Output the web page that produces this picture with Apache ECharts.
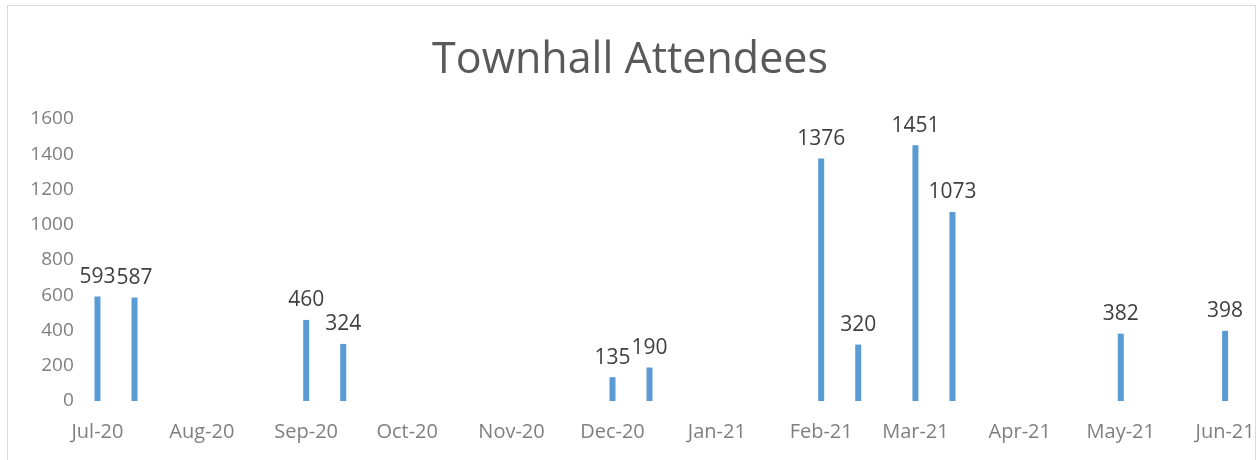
<!DOCTYPE html>
<html>
<head>
<meta charset="utf-8">
<style>
  html, body { margin: 0; padding: 0; background: #ffffff; }
  #chart { width: 1260px; height: 460px; }
</style>
<script src="https://cdn.jsdelivr.net/npm/echarts@6/dist/echarts.min.js"></script>
</head>
<body>
<div id="chart"></div>
<script>
// ---- data ----
const eventDates = ['2020-07-01', '2020-07-12', '2020-09-01', '2020-09-12', '2020-12-01', '2020-12-12',
                    '2021-02-01', '2021-02-12', '2021-03-01', '2021-03-12', '2021-05-01', '2021-06-01'];
const attendees = [593, 587, 460, 324, 135, 190, 1376, 320, 1451, 1073, 382, 398];
const monthStarts = ['2020-07-01', '2020-08-01', '2020-09-01', '2020-10-01', '2020-11-01', '2020-12-01',
                     '2021-01-01', '2021-02-01', '2021-03-01', '2021-04-01', '2021-05-01', '2021-06-01'];
const monthLabels = ['Jul-20', 'Aug-20', 'Sep-20', 'Oct-20', 'Nov-20', 'Dec-20',
                     'Jan-21', 'Feb-21', 'Mar-21', 'Apr-21', 'May-21', 'Jun-21'];
const yTicks = [0, 200, 400, 600, 800, 1000, 1200, 1400, 1600];

// ---- helpers: dates -> day numbers since first month start ----
function dayNum(s) {
  const p = s.split('-').map(Number);
  const q = monthStarts[0].split('-').map(Number);
  return Math.round((Date.UTC(p[0], p[1] - 1, p[2]) - Date.UTC(q[0], q[1] - 1, q[2])) / 86400000);
}
const tickDays = monthStarts.map(dayNum);
const seriesData = eventDates.map((d, i) => [dayNum(d), attendees[i]]);

const chart = echarts.init(document.getElementById('chart'), null, { renderer: 'canvas' });
const FONT = 'Open Sans';

chart.setOption({
  animation: false,
  backgroundColor: '#ffffff',
  title: {
    text: 'Townhall Attendees',
    left: 'center',
    top: 34,
    textStyle: { fontFamily: FONT, fontSize: 43, fontWeight: 'normal', color: '#595959' }
  },
  graphic: [{
    type: 'rect',
    shape: { x: 7.5, y: 5.5, width: 1248, height: 480 },
    style: { fill: 'none', stroke: '#d9d9d9', lineWidth: 1 },
    silent: true
  }],
  grid: { left: 95.8, right: 33.2, top: 119, bottom: 59, containLabel: false },
  xAxis: {
    type: 'value',
    min: tickDays[0] - 0.5,
    max: tickDays[tickDays.length - 1] + 0.5,
    axisLine: { show: false },
    axisTick: { show: false },
    splitLine: { show: false },
    axisLabel: {
      customValues: tickDays,
      margin: 21,
      fontFamily: FONT,
      fontSize: 20,
      color: '#7f7f7f',
      hideOverlap: false,
      formatter: function (v) {
        const i = tickDays.indexOf(Math.round(v));
        return i >= 0 ? monthLabels[i] : '';
      }
    }
  },
  yAxis: {
    type: 'value',
    min: yTicks[0],
    max: yTicks[yTicks.length - 1],
    interval: yTicks[1] - yTicks[0],
    axisLine: { show: false },
    axisTick: { show: false },
    splitLine: { show: false },
    axisLabel: {
      fontFamily: FONT, fontSize: 19, color: '#7f7f7f', margin: 22,
      formatter: function (v) { return String(v); }
    }
  },
  series: [{
    type: 'bar',
    data: seriesData,
    barWidth: 6,
    itemStyle: { color: '#5b9bd5' },
    label: {
      show: true,
      position: 'top',
      distance: 9,
      fontFamily: FONT,
      fontSize: 21,
      color: '#404040'
    }
  }]
});
</script>
</body>
</html>
